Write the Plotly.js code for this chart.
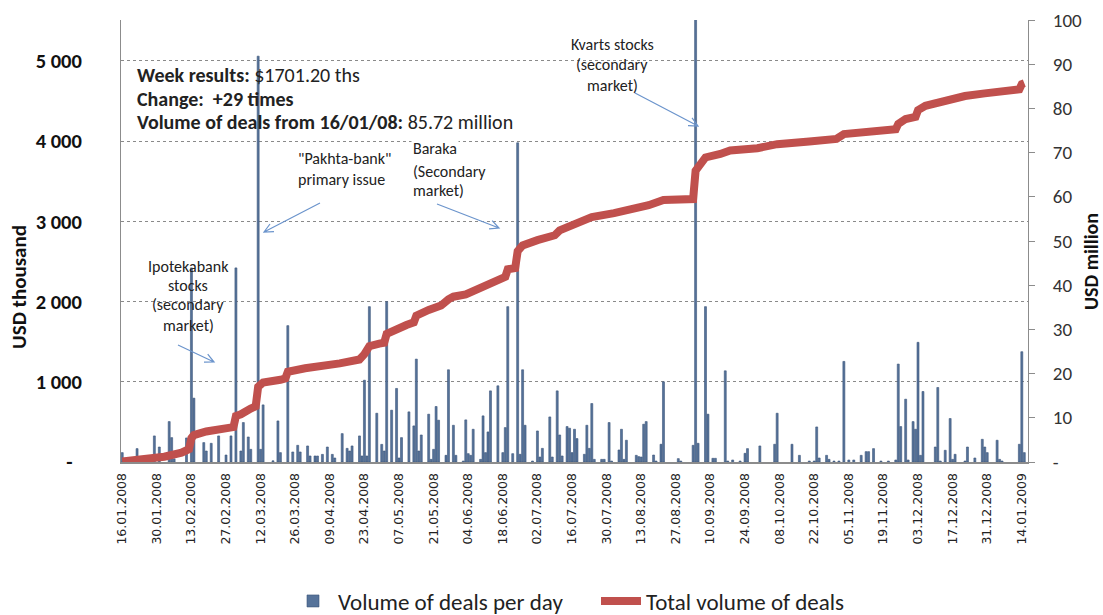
<!DOCTYPE html>
<html>
<head>
<meta charset="utf-8">
<script src="https://cdn.plot.ly/plotly-3.0.1.min.js"></script>
<style>html,body{margin:0;padding:0;background:#fff;}#chart{width:1103px;height:615px;}</style>
</head>
<body>
<div id="chart"></div>
<script>
// ---- Data ----
// Daily volume of deals, USD thousand
const barDates = [
"2008-01-16","2008-01-22","2008-01-29","2008-01-31","2008-02-04","2008-02-05","2008-02-06","2008-02-11","2008-02-13","2008-02-14",
"2008-02-18","2008-02-19","2008-02-21","2008-02-24","2008-02-27","2008-02-29","2008-03-02","2008-03-04","2008-03-05","2008-03-07",
"2008-03-08","2008-03-11","2008-03-12","2008-03-13","2008-03-17","2008-03-19","2008-03-20","2008-03-23","2008-03-25","2008-03-27",
"2008-03-28","2008-03-31","2008-04-01","2008-04-03","2008-04-04","2008-04-06","2008-04-08","2008-04-10","2008-04-11","2008-04-14",
"2008-04-16","2008-04-17","2008-04-18","2008-04-21","2008-04-22","2008-04-23","2008-04-24","2008-04-25","2008-04-28","2008-04-30",
"2008-05-01","2008-05-02","2008-05-04","2008-05-06","2008-05-07","2008-05-08","2008-05-11","2008-05-13","2008-05-14","2008-05-15",
"2008-05-16","2008-05-19","2008-05-20","2008-05-21","2008-05-22","2008-05-23","2008-05-26","2008-05-27","2008-05-29","2008-05-30",
"2008-06-02","2008-06-03","2008-06-04","2008-06-05","2008-06-06","2008-06-09","2008-06-10","2008-06-11","2008-06-12","2008-06-13",
"2008-06-16","2008-06-18","2008-06-19","2008-06-20","2008-06-22","2008-06-24","2008-06-25","2008-06-26","2008-06-27","2008-06-30",
"2008-07-02","2008-07-03","2008-07-04","2008-07-07","2008-07-08","2008-07-10","2008-07-11","2008-07-12","2008-07-14","2008-07-15",
"2008-07-16","2008-07-17","2008-07-18","2008-07-21","2008-07-22","2008-07-23","2008-07-24","2008-07-25","2008-07-28","2008-07-29",
"2008-07-31","2008-08-01","2008-08-04","2008-08-05","2008-08-06","2008-08-07","2008-08-11","2008-08-12","2008-08-13","2008-08-14",
"2008-08-15","2008-08-18","2008-08-19","2008-08-21","2008-08-22","2008-08-28","2008-08-29","2008-09-03","2008-09-04","2008-09-05",
"2008-09-08","2008-09-09","2008-09-11","2008-09-12","2008-09-16","2008-09-17","2008-09-19","2008-09-22","2008-09-24","2008-09-25",
"2008-09-30","2008-10-06","2008-10-07","2008-10-13","2008-10-16","2008-10-20","2008-10-22","2008-10-23","2008-10-24","2008-10-27",
"2008-10-28","2008-10-30","2008-11-01","2008-11-03","2008-11-05","2008-11-07","2008-11-10","2008-11-12","2008-11-13","2008-11-15",
"2008-11-18","2008-11-21","2008-11-24","2008-11-25","2008-11-26","2008-11-28","2008-11-29","2008-12-01","2008-12-02","2008-12-03",
"2008-12-04","2008-12-05","2008-12-10","2008-12-11","2008-12-12","2008-12-14","2008-12-16","2008-12-17","2008-12-18","2008-12-22",
"2008-12-23","2008-12-26","2008-12-29","2008-12-30","2008-12-31","2009-01-04","2009-01-05","2009-01-06","2009-01-13","2009-01-14",
"2009-01-15"
];
const barValues = [
117,167,325,187,504,304,40,300,2420,796,
242,137,233,325,87,325,2420,137,492,312,
158,5060,158,712,15,512,117,1700,125,208,
125,200,75,75,75,95,187,95,50,354,
170,137,200,325,75,1020,75,1937,608,220,
137,2000,646,917,50,304,625,450,1283,137,
337,596,33,158,692,521,83,1150,458,83,
12,525,104,83,408,33,575,117,375,887,
950,117,429,1937,104,3980,96,1150,458,12,
387,62,170,562,62,887,337,75,442,421,
117,408,292,96,458,170,729,33,33,33,
492,12,150,408,33,271,83,67,62,471,
504,87,12,221,1000,42,12,208,5520,233,
1937,596,46,46,1137,12,25,12,108,167,
200,221,608,221,83,12,12,437,50,83,
33,12,12,1254,25,25,83,129,129,167,
12,12,25,1221,442,783,25,504,408,1492,
83,879,187,929,12,146,542,33,96,12,
187,50,283,187,117,271,33,12,221,1375,
117
];
// Total (cumulative) volume of deals, USD million
const totalDates = [
"2008-01-16","2008-02-02","2008-02-09","2008-02-12","2008-02-13","2008-02-14","2008-02-19","2008-02-27","2008-03-01","2008-03-02",
"2008-03-04","2008-03-08","2008-03-10","2008-03-11","2008-03-13","2008-03-20","2008-03-22","2008-03-23","2008-03-30","2008-04-13",
"2008-04-21","2008-04-23","2008-04-25","2008-04-29","2008-05-01","2008-05-02","2008-05-06","2008-05-10","2008-05-13","2008-05-14",
"2008-05-19","2008-05-24","2008-05-27","2008-05-29","2008-06-03","2008-06-10","2008-06-13","2008-06-16","2008-06-19","2008-06-20",
"2008-06-23","2008-06-24","2008-06-26","2008-07-02","2008-07-09","2008-07-11","2008-07-18","2008-07-24","2008-08-02","2008-08-09",
"2008-08-16","2008-08-22","2008-09-03","2008-09-04","2008-09-08","2008-09-14","2008-09-18","2008-09-29","2008-10-07","2008-10-20",
"2008-10-31","2008-11-03","2008-11-19","2008-11-24","2008-11-25","2008-11-28","2008-12-02","2008-12-03","2008-12-06","2008-12-11",
"2008-12-15","2008-12-22","2008-12-30","2009-01-06","2009-01-13","2009-01-14","2009-01-15"
];
const totalValues = [
0.12,1.2,2.1,2.9,5.4,6.1,6.9,7.6,7.9,10.4,
10.8,12.1,12.6,17.0,18.0,18.6,18.9,20.4,21.2,22.3,
23.2,24.4,26.2,26.8,27.0,29.0,30.2,31.0,31.6,33.1,
34.4,35.4,36.8,37.4,37.9,39.5,40.4,41.3,41.9,43.6,
43.9,47.7,49.0,50.2,51.3,52.4,54.1,55.4,56.3,57.0,
58.1,59.3,59.5,65.9,68.9,69.7,70.5,71.0,71.9,72.5,
73.1,74.2,74.9,75.3,76.5,77.6,78.1,79.6,80.6,81.3,
81.9,82.8,83.4,84.0,84.3,85.5,85.72
];
const leftTickVals = [0,1000,2000,3000,4000,5000];
const leftTickText = ["-\u00a0\u00a0","1 000","2 000","3 000","4 000","5 000"];
const rightTickVals = [0,10,20,30,40,50,60,70,80,90,100];
const rightTickText = ["-","10","20","30","40","50","60","70","80","90","100"];

// ---- Layout helpers (pixel -> paper) ----
const PL = 121, PR = 1028, PT = 20, PB = 462;
const px = x => (x - PL) / (PR - PL);
const py = y => (PB - y) / (PB - PT);
const FONT = 'Calibri, Carlito, Lato, sans-serif';

function arrow(x1, y1, x2, y2) {
  const a = Math.atan2(y2 - y1, x2 - x1), L = 10, s = 0.45;
  const h1x = x2 - L * Math.cos(a - s), h1y = y2 - L * Math.sin(a - s);
  const h2x = x2 - L * Math.cos(a + s), h2y = y2 - L * Math.sin(a + s);
  const P = (x, y) => px(x).toFixed(5) + ',' + py(y).toFixed(5);
  return {type: 'path', xref: 'paper', yref: 'paper',
    path: 'M' + P(x1, y1) + ' L' + P(x2, y2) + ' M' + P(h1x, h1y) + ' L' + P(x2, y2) + ' L' + P(h2x, h2y),
    line: {color: '#6b94cc', width: 1.2}};
}
function note(text, x, y, anchor, size, extra) {
  return Object.assign({xref: 'paper', yref: 'paper', x: px(x), y: py(y), xanchor: anchor, yanchor: 'middle',
    text: text, showarrow: false, font: {family: FONT, size: size, color: '#222'}}, extra || {});
}

const traces = [
  {type: 'bar', name: 'Volume of deals per day', x: barDates, y: barValues,
   width: 0.8 * 86400000,
   marker: {color: '#56739a', line: {color: '#3a5478', width: 0.6}}},
  {type: 'scatter', mode: 'lines', name: 'Total volume of deals', x: totalDates, y: totalValues,
   yaxis: 'y2', line: {color: '#c0504d', width: 8}}
];

const annotations = [
  note('<b>Week results:</b> $1701.20 ths', 135, 75, 'left', 20),
  note('<b>Change:  +29 times</b>', 135, 98.5, 'left', 20),
  note('<b>Volume of deals from 16/01/08:</b> 85.72 million', 135, 122, 'left', 20),
  note('Ipotekabank', 188, 266, 'center', 16),
  note('stocks', 188, 285, 'center', 16),
  note('(secondary', 188, 305, 'center', 16),
  note('market)', 188, 325, 'center', 16),
  note('"Pakhta-bank"', 296, 158, 'left', 16),
  note('primary issue', 296, 179, 'left', 16),
  note('Baraka', 411, 149, 'left', 16, {bgcolor: '#ffffff'}),
  note('(Secondary', 411, 171, 'left', 16, {bgcolor: '#ffffff'}),
  note('market)', 411, 191, 'left', 16),
  note('Kvarts stocks', 612, 44, 'center', 16),
  note('(secondary', 612, 65, 'center', 16),
  note('market)', 612, 85, 'center', 16),
  {xref: 'paper', yref: 'paper', x: px(19), y: py(287), xanchor: 'center', yanchor: 'middle', textangle: -90,
   showarrow: false, text: '<b>USD thousand</b>', font: {family: FONT, size: 21, color: '#111'}},
  {xref: 'paper', yref: 'paper', x: px(1091), y: py(262), xanchor: 'center', yanchor: 'middle', textangle: -90,
   showarrow: false, text: '<b>USD million</b>', font: {family: FONT, size: 20, color: '#111'}}
];

const shapes = [
  arrow(178, 345, 214, 362),
  arrow(320, 203, 264, 232),
  arrow(437, 204, 499, 228),
  arrow(635, 93, 698, 126)
];

const layout = {
  width: 1103, height: 615,
  margin: {l: PL, r: 1103 - PR, t: PT, b: 615 - PB, autoexpand: false},
  paper_bgcolor: '#ffffff', plot_bgcolor: '#ffffff',
  font: {family: FONT, color: '#222'},
  showlegend: true,
  legend: {orientation: 'h', x: px(288), xanchor: 'left', y: py(601), yanchor: 'middle',
           font: {family: FONT, size: 23, color: '#222'}, itemwidth: 40, tracegroupgap: 0,
           entrywidth: 253, entrywidthmode: 'pixels'},
  bargap: 0,
  xaxis: {type: 'date', range: ['2008-01-15 12:00', '2009-01-16 12:00'], automargin: false,
          tick0: '2008-01-16', dtick: 14 * 86400000, tickformat: '%d.%m.%Y', tickangle: -90,
          showline: true, linecolor: '#8c8c8c', linewidth: 2, showgrid: false, zeroline: false, ticks: '',
          ticklabelstandoff: 4,
          tickfont: {family: 'DejaVu Sans, Verdana, sans-serif', size: 12.5, color: '#222'}},
  yaxis: {range: [0, 5511], tickmode: 'array', tickvals: leftTickVals, ticktext: leftTickText, automargin: false,
          showgrid: true, gridcolor: '#8a8a8a', griddash: 'dot', gridwidth: 1, zeroline: false,
          showline: true, linecolor: '#8c8c8c', linewidth: 1, ticks: '', ticklabelstandoff: 34,
          tickfont: {family: FONT, size: 20.5, color: '#111', weight: 'bold'}},
  yaxis2: {range: [0, 100], overlaying: 'y', side: 'right', tickmode: 'array', automargin: false,
           tickvals: rightTickVals, ticktext: rightTickText,
           showgrid: false, zeroline: false, showline: true, linecolor: '#8c8c8c', linewidth: 1,
           ticks: 'outside', ticklen: 6, tickcolor: '#8c8c8c', ticklabelstandoff: 14,
           tickfont: {family: FONT, size: 19, color: '#333'}},
  annotations: annotations,
  shapes: shapes
};

Plotly.newPlot('chart', traces, layout, {displayModeBar: false, staticPlot: true});
</script>
</body>
</html>
